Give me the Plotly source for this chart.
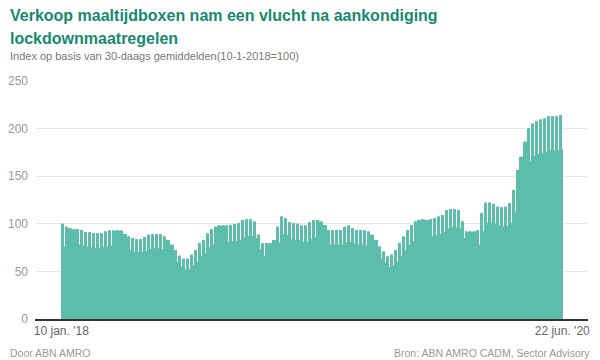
import pandas as pd
import plotly.graph_objects as go

# Weekly peak values (index), one per week starting 10-1-2018
week_peaks = [
    100, 97, 95.4, 94.3, 94.3, 93.6, 91.2, 91.2, 90.1, 90.1, 90.1, 91.8,
    92.9, 92.9, 92.9, 92.9, 89.4, 86.6, 84.9, 83.9, 83.9, 86, 88.4, 89.1,
    89.1, 89.1, 86.6, 83.1, 77.9, 72.6, 66.4, 63.2, 63.2, 67.4, 72.6, 79.7,
    83.1, 90.1, 94.3, 97, 98.1, 98.1, 98.1, 98.8, 99.5, 100.6, 104.1, 104.8,
    104.8, 102.3, 88.4, 79.7, 79.7, 79.7, 83.1, 97, 107.6, 105.9, 101.7, 100.6,
    100, 98.1, 98.1, 101.7, 104.1, 104.1, 102.3, 98.8, 93.6, 93.6, 93.6, 93.6,
    97, 98.1, 95.4, 93.6, 93.6, 92.9, 91.8, 88.4, 83.1,
    76.1, 70.9, 65.6, 67.4, 72.6, 79.7, 86.6, 93.6, 98.8, 102.3,
    104.1, 104.8, 104.1, 104.8, 105.9, 107.6, 109.3, 114.6, 115.3, 115.3,
    114.6, 102.3, 91.8, 91.8, 91.8, 93.6, 111.1, 122.2, 122.2, 120.9,
    118, 117.4, 118, 121.6, 135.5, 156.5, 170.4, 186.2, 200.2, 205.4,
    207.9, 209.6, 210.7, 213.1, 213.1, 213.1, 214.2,
]
# Weekly trough values (the lower days of each week)
week_troughs = [
    76, 80, 79, 78, 78, 77, 76, 75, 74, 74, 75, 76,
    77, 77, 77, 76, 74, 72, 70, 70, 70, 71, 73, 74,
    74, 73, 71, 68, 64, 60, 55, 52, 52, 56, 60, 66,
    69, 75, 78, 80, 81, 81, 81, 82, 82, 83, 86, 87,
    87, 85, 73, 66, 66, 66, 69, 80, 89, 88, 84, 83,
    83, 81, 81, 84, 86, 86, 85, 82, 78, 78, 78, 78,
    80, 81, 79, 78, 78, 77, 76, 73, 69,
    63, 59, 54, 56, 60, 66, 72, 78, 82, 85,
    86, 87, 86, 87, 88, 89, 91, 95, 96, 96,
    95, 85, 76, 76, 76, 78, 92, 101, 101, 100,
    98, 97, 98, 101, 112, 130, 141, 155, 166, 171,
    173, 174, 175, 177, 177, 177, 178,
]
start_date = "2018-01-10"
end_date = "2020-06-22"
tick_dates = ["2018-01-10", "2020-06-22"]
tick_labels = ["10 jan. '18", "22 jun. '20"]
y_ticks = [0, 50, 100, 150, 200, 250]

title1 = "Verkoop maaltijdboxen nam een vlucht na aankondiging"
title2 = "lockdownmaatregelen"
subtitle = "Index op basis van 30-daags gemiddelden(10-1-2018=100)"
footer_left = "Door ABN AMRO"
footer_right = "Bron: ABN AMRO CADM, Sector Advisory"

# Expand weekly readings to daily bars: first 4 days of each week high, last 3 low
dates = pd.date_range(start_date, end_date, freq="D")
values = []
for i in range(len(dates)):
    w, d = divmod(i, 7)
    values.append(week_peaks[w] if d < 4 else week_troughs[w])

# The page body has an 8px margin; size the figure so it fills the window
OFF = 8
W, H = 600 - OFF, 360 - OFF
L, T = 35 - OFF, 81 - OFF
R = W - (588 - OFF)
B = H - (319 - OFF)
pw, ph = W - L - R, H - T - B


def px(x):
    return (x - OFF - L) / pw


def py(y):
    return (H - B - (y - OFF)) / ph


fig = go.Figure(go.Bar(
    x=dates, y=values,
    marker=dict(color="#5dbdab", line=dict(width=0)),
))

fig.update_layout(
    width=W, height=H,
    margin=dict(l=L, r=R, t=T, b=B, autoexpand=False),
    paper_bgcolor="white", plot_bgcolor="white",
    bargap=0.12,
    showlegend=False,
    font=dict(family="Liberation Sans, Arial, sans-serif"),
    xaxis=dict(
        range=["2017-11-24", "2020-08-07"],
        tickvals=tick_dates, ticktext=tick_labels,
        tickfont=dict(size=12, color="#666666"),
        showgrid=False, showline=True, linecolor="#333333", linewidth=1.5,
        ticks="", zeroline=False, automargin=False,
    ),
    yaxis=dict(
        range=[0, 250], tickvals=y_ticks,
        tickfont=dict(size=12, color="#999999"),
        showgrid=True, gridcolor="#e6e6e6", gridwidth=1,
        zeroline=False, ticks="", ticklabelstandoff=6, automargin=False,
    ),
    annotations=[
        dict(text="<b>" + title1 + "</b>", x=px(8), y=py(5), xref="paper", yref="paper",
             xanchor="left", yanchor="top", showarrow=False,
             font=dict(size=16, color="#16896f")),
        dict(text="<b>" + title2 + "</b>", x=px(8), y=py(28), xref="paper", yref="paper",
             xanchor="left", yanchor="top", showarrow=False,
             font=dict(size=16, color="#16896f")),
        dict(text=subtitle, x=px(8), y=py(48), xref="paper", yref="paper",
             xanchor="left", yanchor="top", showarrow=False,
             font=dict(size=11, color="#777777")),
        dict(text=footer_left, x=px(8), y=py(345), xref="paper", yref="paper",
             xanchor="left", yanchor="top", showarrow=False,
             font=dict(size=10.5, color="#999999")),
        dict(text=footer_right, x=px(592), y=py(345), xref="paper", yref="paper",
             xanchor="right", yanchor="top", showarrow=False,
             font=dict(size=10.5, color="#999999")),
    ],
)

fig.write_html("out.html")
